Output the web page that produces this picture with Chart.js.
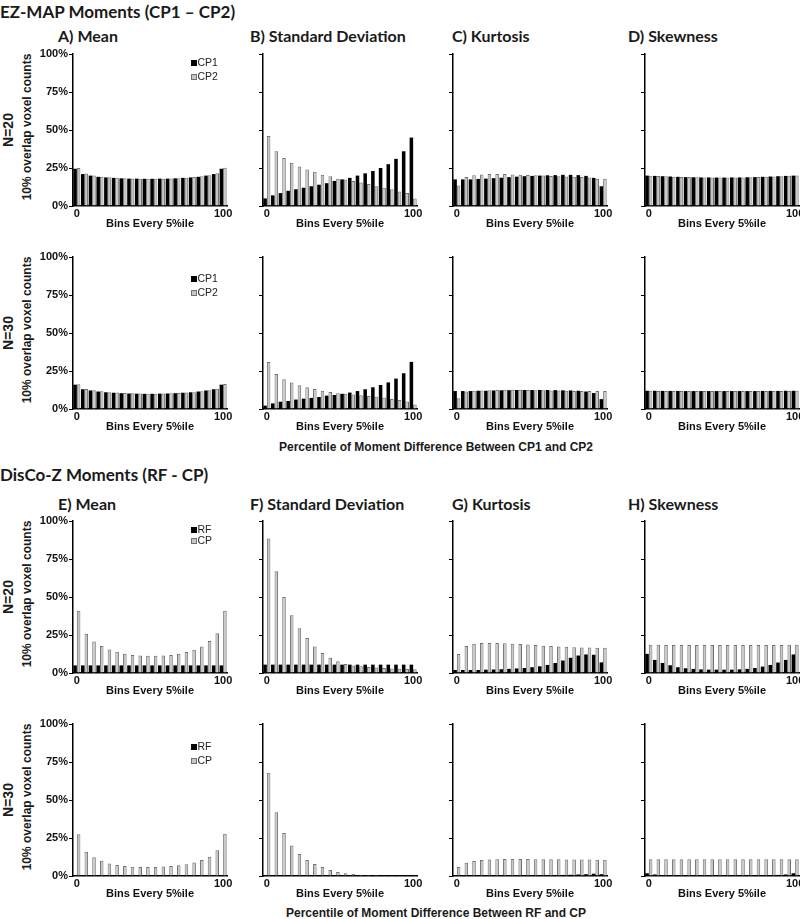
<!DOCTYPE html>
<html>
<head>
<meta charset="utf-8">
<script src="https://cdn.jsdelivr.net/npm/chart.js@4.4.1/dist/chart.umd.min.js"></script>
<style>
  body { margin: 0; background: #fff; width: 800px; height: 919px; position: relative; overflow: hidden;
         font-family: "Liberation Sans", Arial, sans-serif; color: #1a1a1a; }
  .txt { position: absolute; white-space: nowrap; transform: translate(0, -50%); }
  .sec { font-family: Lato, "Open Sans", sans-serif; font-weight: 700; font-size: 17px; }
  .ptl { font-family: Lato, "Open Sans", sans-serif; font-weight: 700; font-size: 16px; }
  .rot { position: absolute; white-space: nowrap; font-weight: bold; transform: translate(-50%, -50%) rotate(-90deg); }
  .foot { position: absolute; white-space: nowrap; font-weight: bold; font-size: 12px; transform: translate(-50%, -50%); }
  canvas { position: absolute; }
</style>
</head>
<body>
<script>
// 20 bins, every 5th percentile
const bins = ['0-5','5-10','10-15','15-20','20-25','25-30','30-35','35-40','40-45','45-50',
              '50-55','55-60','60-65','65-70','70-75','75-80','80-85','85-90','90-95','95-100'];
const xTicks = ['0','','','','','','','','','','','','','','','','','','','100'];
const yTicks = [0, 25, 50, 75, 100];

// EZ-MAP (CP1 - CP2), N=20
const ezMeanCP1_20 = [24.5, 21, 20, 19.2, 18.8, 18.5, 18.2, 18, 18, 17.9, 17.9, 18, 18, 18.2, 18.5, 18.8, 19.2, 20, 21, 24.5];
const ezMeanCP2_20 = [25, 21.3, 20.1, 19.3, 18.9, 18.6, 18.3, 18.1, 18, 18, 18, 18, 18.1, 18.3, 18.6, 19, 19.5, 20.3, 21.6, 25.2];
const ezSdCP1_20 = [5, 7, 8.5, 10, 11, 12, 13, 14, 15, 16.5, 17.5, 18.5, 20, 21.5, 23, 25, 27.5, 31, 36, 45];
const ezSdCP2_20 = [46, 36, 31.5, 28.5, 26, 24, 22.5, 20.5, 19.5, 18, 17.5, 16.5, 15.5, 14.5, 13, 12, 11, 9.5, 8.5, 5];
const ezKurtCP1_20 = [17.5, 17.5, 17.5, 17.8, 18, 18.3, 18.6, 19, 19.3, 19.6, 19.8, 20, 20.2, 20.3, 20.5, 20.5, 20.3, 19.8, 18.5, 13];
const ezKurtCP2_20 = [13.5, 19, 20.3, 20.8, 21, 21, 21, 20.8, 20.6, 20.4, 20.2, 20, 19.8, 19.6, 19.4, 19.2, 19, 18.8, 18, 18];
const ezSkewCP1_20 = [20, 19.8, 19.6, 19.4, 19.2, 19, 18.9, 18.8, 18.8, 18.7, 18.7, 18.8, 18.8, 18.9, 19, 19.2, 19.4, 19.6, 19.8, 20];
const ezSkewCP2_20 = [19.9, 19.7, 19.5, 19.3, 19.1, 19, 18.9, 18.8, 18.7, 18.7, 18.7, 18.7, 18.8, 18.9, 19, 19.2, 19.4, 19.6, 19.9, 20.1];

// EZ-MAP (CP1 - CP2), N=30
const ezMeanCP1_30 = [16, 13, 12.2, 11.5, 11, 10.7, 10.4, 10.2, 10.1, 10, 10, 10.1, 10.2, 10.4, 10.7, 11, 11.5, 12.2, 13, 16];
const ezMeanCP2_30 = [16.3, 13.2, 12.3, 11.6, 11.1, 10.8, 10.5, 10.3, 10.2, 10.1, 10.1, 10.2, 10.3, 10.5, 10.8, 11.1, 11.6, 12.3, 13.3, 16.5];
const ezSdCP1_30 = [2.2, 3.7, 4.8, 5.3, 6.2, 6.8, 7.3, 7.9, 8.8, 9.2, 10, 10.8, 11.8, 13, 14.3, 15.8, 17.5, 20, 23.5, 31];
const ezSdCP2_30 = [31, 23, 19.5, 17.5, 15.6, 14.3, 13.2, 12, 11.2, 10.3, 10, 9.5, 9, 8.5, 8, 7.5, 6.5, 6, 5, 3];
const ezKurtCP1_30 = [11.8, 11.8, 11.8, 12, 12, 12.2, 12.3, 12.4, 12.5, 12.5, 12.5, 12.5, 12.5, 12.4, 12.3, 12.2, 12, 11.5, 10.5, 6.5];
const ezKurtCP2_30 = [7, 11.5, 12, 12.2, 12.4, 12.5, 12.6, 12.6, 12.6, 12.5, 12.4, 12.3, 12.2, 12.1, 12, 11.9, 11.8, 11.8, 11.8, 11.8];
const ezSkewCP1_30 = [12, 12, 11.9, 11.9, 11.9, 11.8, 11.8, 11.8, 11.8, 11.8, 11.8, 11.8, 11.8, 11.8, 11.8, 11.9, 11.9, 11.9, 12, 12];
const ezSkewCP2_30 = [12, 11.9, 11.9, 11.9, 11.8, 11.8, 11.8, 11.8, 11.8, 11.8, 11.8, 11.8, 11.8, 11.8, 11.8, 11.8, 11.9, 11.9, 11.9, 12];

// DisCo-Z (RF - CP), N=20
const dzMeanRF_20 = [5, 5, 5, 5, 5, 5, 5, 5, 5, 5, 5, 5, 5, 5, 5, 5, 5, 5, 5, 5];
const dzMeanCP_20 = [41, 25.9, 20.8, 17.7, 15.5, 13.9, 12.6, 11.9, 11.5, 11.3, 11.3, 11.5, 11.9, 12.6, 13.8, 15.3, 17.5, 21, 26.2, 41];
const dzSdRF_20 = [5.5, 5.5, 5.5, 5.5, 5.5, 5.5, 5.5, 5.5, 5.5, 5.5, 5.5, 5.5, 5.5, 5.5, 5.5, 5.5, 5.5, 5.5, 5.5, 5.5];
const dzSdCP_20 = [88.5, 67, 50, 38, 29.5, 23, 17.5, 13.2, 10, 7.7, 6, 5, 4.5, 4, 3.6, 3.3, 3, 2.8, 2.6, 2.5];
const dzKurtRF_20 = [2, 2, 2, 2, 2.2, 2.3, 2.5, 2.7, 3, 3.3, 3.8, 4.4, 5.3, 6.6, 8.2, 10, 11.5, 12.2, 12, 7];
const dzKurtCP_20 = [12.5, 17.7, 19.2, 19.7, 19.8, 19.8, 19.6, 19.3, 19, 18.7, 18.4, 18, 17.7, 17.5, 17.2, 17, 16.8, 16.7, 16.6, 16.6];
const dzSkewRF_20 = [12.6, 8.6, 6.6, 5.1, 3.8, 3.1, 2.7, 2.4, 2.2, 2.2, 2.2, 2.2, 2.4, 2.7, 3.3, 4.2, 5.3, 6.9, 8.6, 12.2];
const dzSkewCP_20 = [18.6, 18.6, 18.5, 18.5, 18.5, 18.4, 18.4, 18.4, 18.4, 18.4, 18.4, 18.4, 18.4, 18.4, 18.4, 18.5, 18.5, 18.5, 18.6, 18.6];

// DisCo-Z (RF - CP), N=30
const dzMeanRF_30 = [0.3, 0.3, 0.3, 0.3, 0.3, 0.3, 0.3, 0.3, 0.3, 0.3, 0.3, 0.3, 0.3, 0.3, 0.3, 0.3, 0.3, 0.3, 0.3, 0.3];
const dzMeanCP_30 = [27.4, 16, 12.3, 10, 8.3, 7.2, 6.6, 6.1, 5.9, 5.9, 6, 6.2, 6.6, 7, 7.7, 8.8, 10.5, 12.7, 17, 27.8];
const dzSdRF_30 = [0.3, 0.3, 0.3, 0.3, 0.3, 0.3, 0.3, 0.3, 0.3, 0.3, 0.3, 0.3, 0.3, 0.3, 0.3, 0.3, 0.3, 0.3, 0.3, 0.3];
const dzSdCP_30 = [68, 42, 28.3, 20, 14.5, 10.5, 7.9, 5.9, 3.9, 2.6, 1.8, 1.3, 0.9, 0.7, 0.6, 0.5, 0.5, 0.5, 0.5, 0.5];
const dzKurtRF_30 = [0.3, 0.3, 0.3, 0.3, 0.3, 0.3, 0.3, 0.3, 0.3, 0.4, 0.4, 0.5, 0.5, 0.6, 0.7, 0.8, 1, 1.2, 1.5, 1.2];
const dzKurtCP_30 = [6, 8.7, 9.9, 10.5, 10.9, 11.1, 11.2, 11.2, 11.2, 11.2, 11.1, 11.1, 11, 11, 10.9, 10.9, 10.8, 10.8, 10.7, 10.7];
const dzSkewRF_30 = [1.8, 1, 0.6, 0.4, 0.3, 0.3, 0.2, 0.2, 0.2, 0.2, 0.2, 0.2, 0.2, 0.2, 0.3, 0.4, 0.5, 0.7, 1, 1.8];
const dzSkewCP_30 = [11, 11, 11, 11, 11, 11, 11, 11, 11, 11, 11, 11, 11, 11, 11, 11, 11, 11, 11, 11];

// layout
const colX = [73, 263, 453, 645];
const rowTop = [54, 257, 521, 724];
const PW = 154, PH = 152;
const LEFT = 45, TOP = 8, RIGHT = 12, XH = 30;

const panels = [
  { col: 0, row: 0, a: ezMeanCP1_20, b: ezMeanCP2_20, names: ['CP1', 'CP2'], legend: { dy: 9, gap: 14 } },
  { col: 1, row: 0, a: ezSdCP1_20, b: ezSdCP2_20, names: ['CP1', 'CP2'] },
  { col: 2, row: 0, a: ezKurtCP1_20, b: ezKurtCP2_20, names: ['CP1', 'CP2'] },
  { col: 3, row: 0, a: ezSkewCP1_20, b: ezSkewCP2_20, names: ['CP1', 'CP2'] },
  { col: 0, row: 1, a: ezMeanCP1_30, b: ezMeanCP2_30, names: ['CP1', 'CP2'], legend: { dy: 22, gap: 14 } },
  { col: 1, row: 1, a: ezSdCP1_30, b: ezSdCP2_30, names: ['CP1', 'CP2'] },
  { col: 2, row: 1, a: ezKurtCP1_30, b: ezKurtCP2_30, names: ['CP1', 'CP2'] },
  { col: 3, row: 1, a: ezSkewCP1_30, b: ezSkewCP2_30, names: ['CP1', 'CP2'] },
  { col: 0, row: 2, a: dzMeanRF_20, b: dzMeanCP_20, names: ['RF', 'CP'], legend: { dy: 9, gap: 11 } },
  { col: 1, row: 2, a: dzSdRF_20, b: dzSdCP_20, names: ['RF', 'CP'] },
  { col: 2, row: 2, a: dzKurtRF_20, b: dzKurtCP_20, names: ['RF', 'CP'] },
  { col: 3, row: 2, a: dzSkewRF_20, b: dzSkewCP_20, names: ['RF', 'CP'] },
  { col: 0, row: 3, a: dzMeanRF_30, b: dzMeanCP_30, names: ['RF', 'CP'], legend: { dy: 23, gap: 14 } },
  { col: 1, row: 3, a: dzSdRF_30, b: dzSdCP_30, names: ['RF', 'CP'] },
  { col: 2, row: 3, a: dzKurtRF_30, b: dzKurtCP_30, names: ['RF', 'CP'] },
  { col: 3, row: 3, a: dzSkewRF_30, b: dzSkewCP_30, names: ['RF', 'CP'] }
];

// small legend drawn inside the plot area (top right)
const panelLegend = {
  id: 'panelLegend',
  afterDraw(chart, args, opts) {
    if (!opts.show) return;
    const ctx = chart.ctx, area = chart.chartArea;
    ctx.save();
    ctx.font = '10.5px "Liberation Sans", Arial, sans-serif';
    ctx.textBaseline = 'middle';
    chart.data.datasets.forEach((ds, i) => {
      const x = area.left + 118, y = area.top + opts.dy + i * opts.gap;
      ctx.fillStyle = ds.backgroundColor;
      ctx.fillRect(x, y - 3, 6, 6);
      if (ds.borderWidth) {
        ctx.strokeStyle = ds.borderColor; ctx.lineWidth = 1;
        ctx.strokeRect(x + 0.5, y - 2.5, 5, 5);
      }
      ctx.fillStyle = '#222';
      ctx.fillText(ds.label, x + 6.5, y + 0.5);
    });
    ctx.restore();
  }
};

function makePanel(p) {
  const cv = document.createElement('canvas');
  cv.width = LEFT + PW + RIGHT;
  cv.height = TOP + PH + XH;
  cv.style.left = (colX[p.col] - LEFT) + 'px';
  cv.style.top = (rowTop[p.row] - TOP) + 'px';
  document.body.appendChild(cv);
  new Chart(cv, {
    type: 'bar',
    data: {
      labels: bins,
      datasets: [
        { label: p.names[0], data: p.a, backgroundColor: '#000', borderWidth: 0 },
        { label: p.names[1], data: p.b, backgroundColor: '#c6c6c6', borderColor: '#707070', borderWidth: 1 }
      ]
    },
    options: {
      responsive: false, animation: false, devicePixelRatio: 1,
      layout: { padding: { top: TOP, right: RIGHT, left: 0, bottom: 0 } },
      datasets: { bar: { categoryPercentage: 0.92, barPercentage: 1 } },
      plugins: {
        legend: { display: false }, tooltip: { enabled: false },
        panelLegend: p.legend ? { show: true, dy: p.legend.dy, gap: p.legend.gap } : { show: false }
      },
      scales: {
        x: {
          grid: { display: false, drawTicks: false },
          border: { display: true, color: '#000', width: 1.5 },
          ticks: { autoSkip: false, maxRotation: 0, padding: 1, color: '#111',
                   font: { family: '"Liberation Sans", Arial', size: 11, weight: 'bold' },
                   callback: (v, i) => xTicks[i] },
          title: { display: true, text: 'Bins Every 5%ile', color: '#111',
                   font: { family: '"Liberation Sans", Arial', size: 11, weight: 'bold' },
                   padding: { top: 0, bottom: 5 } },
          afterFit: s => { s.height = XH; }
        },
        y: {
          min: 0, max: 100,
          afterBuildTicks: s => { s.ticks = yTicks.map(v => ({ value: v })); },
          ticks: { display: p.col === 0, padding: 1, color: '#111',
                   font: { family: '"Liberation Sans", Arial', size: 11, weight: 'bold' },
                   callback: v => v + '%' },
          grid: { drawOnChartArea: false, drawTicks: true, tickLength: 4, color: '#000', lineWidth: 1 },
          border: { display: true, color: '#000', width: 1.5 },
          afterFit: s => { s.width = LEFT; }
        }
      }
    },
    plugins: [panelLegend]
  });
}

function addText(cls, text, x, y, extra) {
  const d = document.createElement('div');
  d.className = cls;
  d.textContent = text;
  d.style.left = x + 'px';
  d.style.top = y + 'px';
  if (extra) Object.assign(d.style, extra);
  document.body.appendChild(d);
}

// headings
addText('txt sec', 'EZ-MAP Moments (CP1 – CP2)', 0, 11);
addText('txt sec', 'DisCo-Z Moments (RF - CP)', 0, 474);
const titlesTop = ['A) Mean', 'B) Standard Deviation', 'C) Kurtosis', 'D) Skewness'];
const titlesBottom = ['E) Mean', 'F) Standard Deviation', 'G) Kurtosis', 'H) Skewness'];
const titleX = [58, 250, 452, 628];
titlesTop.forEach((t, i) => addText('txt ptl', t, titleX[i], 35));
titlesBottom.forEach((t, i) => addText('txt ptl', t, titleX[i], 503));

// row labels
const rowN = ['N=20', 'N=30', 'N=20', 'N=30'];
rowN.forEach((t, r) => {
  const cy = rowTop[r] + PH / 2;
  addText('rot', t, 8, cy, { fontSize: '14px' });
  addText('rot', '10% overlap voxel counts', 27, cy - 3, { fontSize: '12px' });
});

addText('foot', 'Percentile of Moment Difference Between CP1 and CP2', 436, 447);
addText('foot', 'Percentile of Moment Difference Between RF and CP', 436, 913);

panels.forEach(makePanel);
</script>
</body>
</html>
